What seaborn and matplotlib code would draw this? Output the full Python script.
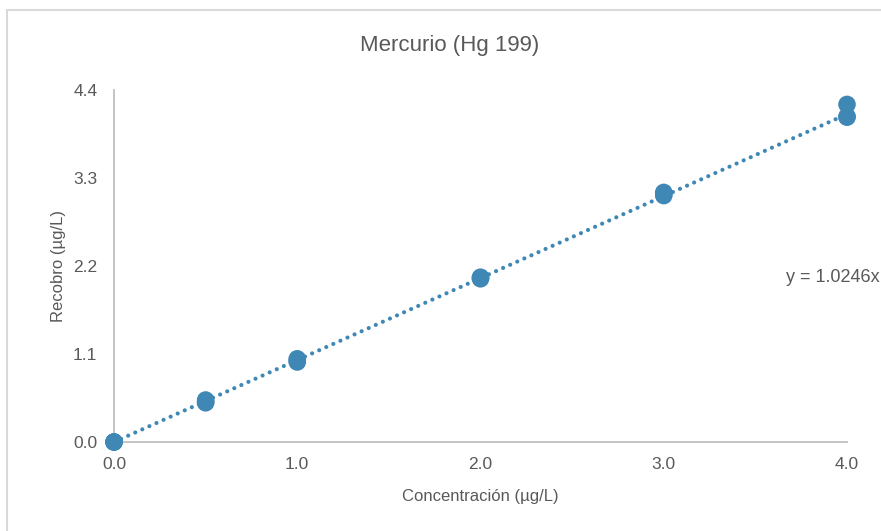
import numpy as np
import pandas as pd
import matplotlib
matplotlib.use("Agg")
import matplotlib.pyplot as plt
from matplotlib.patches import Rectangle
import seaborn as sns

# datos (replicas por nivel)
concentracion = [0.0, 0.0, 0.0, 0.5, 0.5, 0.5, 1.0, 1.0, 1.0,
                 2.0, 2.0, 2.0, 3.0, 3.0, 3.0, 4.0, 4.0, 4.0]
recobro = [0.0, 0.0, 0.0, 0.525, 0.50, 0.49, 1.04, 1.02, 1.00,
           2.06, 2.05, 2.04, 3.12, 3.10, 3.08, 4.22, 4.07, 4.06]
pendiente = 1.0246
xticks = [0.0, 1.0, 2.0, 3.0, 4.0]
yticks = [0.0, 1.1, 2.2, 3.3, 4.4]

azul = "#3F88B5"
gris_txt = "#595959"
gris_eje = "#BFBFBF"

sns.set_theme(style="white")
plt.rcParams["font.family"] = ["Liberation Sans", "DejaVu Sans"]

df = pd.DataFrame({"x": concentracion, "y": recobro})

fig = plt.figure(figsize=(8.81, 5.31), dpi=100)
ax = fig.add_axes([114 / 881, 1 - 442 / 531, (847 - 114) / 881, (442 - 90) / 531])

# linea de tendencia
xl = np.array([0.0, 4.0])
ax.plot(xl, pendiente * xl, color=azul, lw=3.0, linestyle=(0, (0.01, 1.85)),
        dash_capstyle="round", zorder=2)

sns.scatterplot(data=df, x="x", y="y", ax=ax, color=azul, s=160,
                edgecolor="none", zorder=3, clip_on=False)

ax.set_xlim(0, 4.0)
ax.set_ylim(0, 4.4)
ax.set_xticks(xticks)
ax.set_xticklabels([f"{v:.1f}" for v in xticks])
ax.set_yticks(yticks)
ax.set_yticklabels([f"{v:.1f}" for v in yticks])
ax.tick_params(colors=gris_txt, labelsize=12.5, length=0)
ax.tick_params(axis="x", pad=11)
ax.tick_params(axis="y", pad=12)

for s in ["top", "right"]:
    ax.spines[s].set_visible(False)
for s in ["left", "bottom"]:
    ax.spines[s].set_color(gris_eje)
    ax.spines[s].set_linewidth(1.3)

ax.set_xlabel("Concentración (µg/L)", color=gris_txt, fontsize=12, labelpad=12)
ax.set_ylabel("Recobro (µg/L)", color=gris_txt, fontsize=12, labelpad=5)

fig.text(450 / 881, 1 - 45 / 531, "Mercurio (Hg 199)", ha="center", va="center",
         fontsize=16, color=gris_txt)
fig.text(786 / 881, 1 - 277 / 531, "y = 1.0246x", ha="left", va="center",
         fontsize=13, color=gris_txt)

# marco del area del grafico
fig.patches.append(Rectangle((7 / 881, -0.05), 1.1, 1 - 10 / 531 + 0.05,
                             transform=fig.transFigure, fill=False,
                             edgecolor="#D9D9D9", lw=1.5))

fig.savefig("out.png", dpi=100)
